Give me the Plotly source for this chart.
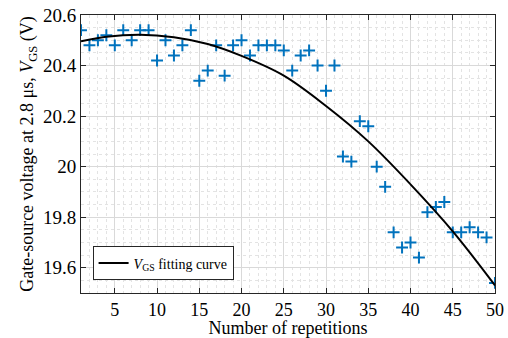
import plotly.graph_objects as go

# Measured data
repetitions = list(range(1, 51))
vgs = [20.54, 20.48, 20.50, 20.52, 20.48, 20.54, 20.50, 20.54, 20.54, 20.42,
       20.50, 20.44, 20.48, 20.54, 20.34, 20.38, 20.48, 20.36, 20.48, 20.50,
       20.44, 20.48, 20.48, 20.48, 20.46, 20.38, 20.44, 20.46, 20.40, 20.30,
       20.40, 20.04, 20.02, 20.18, 20.16, 20.00, 19.92, 19.74, 19.68, 19.70,
       19.64, 19.82, 19.84, 19.86, 19.74, 19.74, 19.76, 19.74, 19.72, 19.54]

# Fitting curve
fit_x = [1, 4, 8, 12, 16, 20, 25, 30, 35, 40, 45, 50]
fit_y = [20.496, 20.514, 20.522, 20.512, 20.485, 20.438, 20.360, 20.240,
         20.100, 19.930, 19.744, 19.530]

FONT = "'Liberation Serif', 'Times New Roman', Times, serif"
AX = "#262626"

fig = go.Figure()
fig.add_trace(go.Scatter(
    x=repetitions, y=vgs, mode="markers", showlegend=False,
    marker=dict(symbol="cross-thin", size=8.5, color="#0072BD",
                line=dict(color="#0072BD", width=2)),
))
fig.add_trace(go.Scatter(
    x=fit_x, y=fit_y, mode="lines", name="<i>V</i><sub>GS</sub> fitting curve",
    line=dict(color="black", width=2, shape="spline"),
))

axis_common = dict(
    showline=True, linecolor=AX, linewidth=1, mirror="allticks",
    ticks="inside", ticklen=5, tickcolor=AX, tickwidth=1,
    showgrid=True, gridcolor="#d9d9d9", gridwidth=1,
    zeroline=False, automargin=False,
)

fig.update_xaxes(
    range=[1, 50], tick0=0, dtick=5,
    tickfont=dict(family=FONT, size=18, color="black"),
    title=dict(text="Number of repetitions", font=dict(family=FONT, size=18, color="black"), standoff=5),
    minor=dict(dtick=1, showgrid=True, gridcolor="#e3e3e3", griddash="dot", gridwidth=1, ticks=""),
    **axis_common,
)
fig.update_yaxes(
    range=[19.5, 20.6], tick0=19.6, dtick=0.2,
    tickfont=dict(family=FONT, size=19, color="black"),
    title=dict(text="Gate-source voltage at 2.8 μs, <i>V</i><sub>GS</sub> (V)",
               font=dict(family=FONT, size=18, color="black"), standoff=4),
    minor=dict(dtick=0.05, showgrid=True, gridcolor="#e3e3e3", griddash="dot", gridwidth=1, ticks=""),
    **axis_common,
)

fig.update_layout(
    width=508, height=338,
    margin=dict(l=81, r=13, t=15, b=45),
    paper_bgcolor="white", plot_bgcolor="white",
    font=dict(family=FONT, color="black"),
    legend=dict(
        x=0.028, y=0.045, xanchor="left", yanchor="bottom",
        bgcolor="white", bordercolor=AX, borderwidth=1,
        font=dict(family=FONT, size=14, color="black"),
        itemwidth=30, tracegroupgap=0,
    ),
)

fig.write_html("out.html")
